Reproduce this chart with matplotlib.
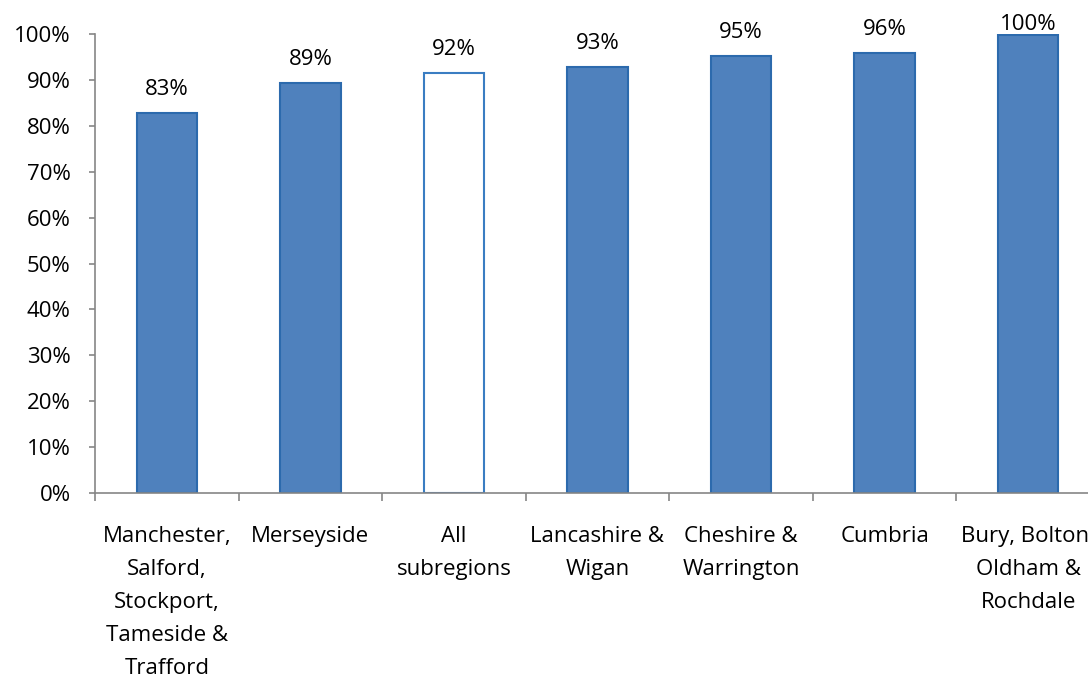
import matplotlib.pyplot as plt
import numpy as np
from matplotlib.ticker import FixedLocator

plt.rcParams['font.family'] = ['Open Sans', 'DejaVu Sans']

# share of each subregion, percent
regions = ["Manchester,\nSalford,\nStockport,\nTameside &\nTrafford",
           "Merseyside", "All\nsubregions", "Lancashire &\nWigan",
           "Cheshire &\nWarrington", "Cumbria", "Bury, Bolton,\nOldham &\nRochdale"]
shares = [82.8, 89.4, 91.5, 92.9, 95.3, 95.9, 99.8]
totals_col = 2  # the "All subregions" bar is drawn hollow

fig = plt.figure(figsize=(10.88, 6.75), dpi=100)
ax = fig.add_axes([95/1088, 182/675, 1005/1088, 459/675])

x = np.arange(len(regions))
fills = ['white' if i == totals_col else '#4F81BD' for i in x]
edges = ['#3A7DC2' if i == totals_col else '#2C6AAD' for i in x]
ax.bar(x, shares, width=0.42, color=fills, edgecolor=edges, linewidth=1.5, zorder=2)

for xi, v in zip(x, shares):
    ax.text(xi, min(v + 5.1, 102), f"{v:.0f}%", ha='center', va='center', fontsize=16)

ax.set_xlim(-0.5, len(regions) - 0.5)
ax.set_ylim(0, 100)
ax.set_yticks(np.arange(0, 101, 10))
ax.set_yticklabels([f"{t}%" for t in range(0, 101, 10)], fontsize=16)
ax.set_xticks(x)
ax.set_xticklabels(regions, fontsize=16, linespacing=1.74, va='top')
ax.xaxis.set_minor_locator(FixedLocator(np.arange(-0.5, len(regions), 1)))

ax.tick_params(axis='x', which='major', length=0, pad=24)
ax.tick_params(axis='x', which='minor', length=6, color='#868686', width=1.2)
ax.tick_params(axis='y', length=4.5, color='#868686', width=1.2, pad=13)

for s in ['top', 'right']:
    ax.spines[s].set_visible(False)
for s in ['left', 'bottom']:
    ax.spines[s].set_color('#868686')
    ax.spines[s].set_linewidth(1.2)

fig.savefig("out.png", dpi=100)
